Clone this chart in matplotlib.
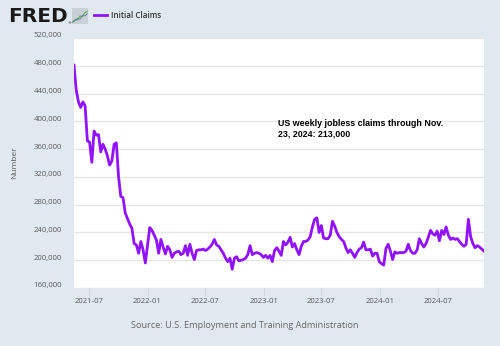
import matplotlib
matplotlib.use("Agg")
import matplotlib.pyplot as plt
import matplotlib.transforms as mtransforms
import pandas as pd

# Weekly initial claims, weeks ending Saturday
first_week = "2021-05-15"
claims = [
    481, 445, 428, 420, 428, 422, 372, 370, 341, 386,
    380, 381, 356, 367, 360, 350, 337, 343, 367, 369,
    320, 292, 290, 268, 260, 252, 246, 224, 222, 210,
    227, 215, 196, 222, 247, 243, 236, 229, 210, 230,
    219, 209, 220, 215, 204, 210, 212, 213, 208, 210,
    221, 207, 223, 210, 201, 214, 215, 215, 216, 214,
    216, 219, 223, 230, 222, 220, 215, 210, 203, 198,
    203, 187, 203, 205, 199, 200, 201, 203, 208, 221,
    208, 210, 211, 210, 208, 204, 207, 203, 207, 198,
    214, 218, 213, 207, 227, 222, 226, 233, 219, 224,
    215, 208, 220, 227, 227, 229, 234, 248, 259, 261,
    240, 250, 232, 231, 231, 236, 256, 249, 240, 234,
    230, 227, 218, 211, 215, 210, 204, 211, 216, 218,
    226, 215, 215, 216, 206, 210, 210, 198, 195, 193,
    217, 223, 213, 201, 212, 210, 211, 211, 211, 213,
    223, 214, 210, 210, 215, 231, 224, 219, 224, 233,
    243, 238, 236, 242, 228, 243, 237, 248, 236, 230,
    232, 230, 231, 227, 223, 220, 223, 259, 234, 224,
    218, 221, 219, 216, 213,
]
claims = [c * 1000 for c in claims]
weeks = pd.date_range(first_week, periods=len(claims), freq="7D")

y_ticks = list(range(160000, 520001, 40000))
x_ticks = ["2021-07", "2022-01", "2022-07", "2023-01", "2023-07", "2024-01", "2024-07"]

series_name = "Initial Claims"
note = "US weekly jobless claims through Nov.\n23, 2024: 213,000"
source = "Source: U.S. Employment and Training Administration"

# little chart icon next to the logo
icon_a = [0.1, 0.3, 0.25, 0.5, 0.45, 0.7, 0.8]
icon_b = [0.15, 0.2, 0.35, 0.3, 0.55, 0.5, 0.65]

bg = "#e1e9f0"
purple = "#9012fe"
grey = "#595959"

fig = plt.figure(figsize=(5.0, 3.46), dpi=100, facecolor=bg)
ax = fig.add_axes([74 / 500, 1 - 288 / 346, 410 / 500, 250 / 346])
ax.set_facecolor("white")

ax.plot(weeks, claims, color=purple, lw=2.0, solid_joinstyle="round", zorder=3)

ax.set_xlim(weeks[0], weeks[-1])
ax.set_ylim(y_ticks[0], y_ticks[-1])

ax.set_yticks(y_ticks)
ax.set_yticklabels([f"{v:,}" for v in y_ticks])
ax.set_xticks([pd.Timestamp(t + "-01") for t in x_ticks])
ax.set_xticklabels(x_ticks)

ax.grid(axis="y", color="#e6e6e6", lw=1.0, zorder=0)
for s in ax.spines.values():
    s.set_visible(False)

ax.tick_params(axis="y", length=0, pad=8.5, labelsize=5.6, labelcolor=grey)
ax.tick_params(axis="x", length=6, width=0.8, color="#d0d8e0", pad=1.5,
               labelsize=5.6, labelcolor=grey)
for lbl in ax.get_yticklabels() + ax.get_xticklabels():
    lbl.set_family("Open Sans")
lift = mtransforms.ScaledTranslation(0, 3 / 100, fig.dpi_scale_trans)
for lbl in ax.get_yticklabels():
    lbl.set_transform(lbl.get_transform() + lift)

fig.text(15 / 500, 1 - 163 / 346, "Number", rotation=90, fontsize=6,
         color=grey, family="Open Sans", ha="center", va="center")

ax.text(0.498, 0.676, note, transform=ax.transAxes, fontsize=6.4,
        family="Liberation Sans", fontweight="bold", color="black",
        va="top", ha="left", linespacing=1.25)

# header: logo, icon and series key
fig.text(8 / 500, 1 - 16 / 346, "FRED", fontsize=14.5, fontweight="bold",
         family="DejaVu Sans", color="#1a1a1a", va="center", ha="left")
fig.text(67.5 / 500, 1 - 23 / 346, "®", fontsize=3, color="#1a1a1a", va="center")
icon = fig.add_axes([72 / 500, 1 - 24 / 346, 16 / 500, 16 / 346])
icon.set_facecolor("#c9d1d8")
icon.plot(range(len(icon_a)), icon_a, color="#6aa84f", lw=0.8)
icon.plot(range(len(icon_b)), icon_b, color="#5b7fa6", lw=0.6)
icon.set_xlim(-0.3, len(icon_a) - 0.7)
icon.set_ylim(0, 1)
icon.set_xticks([])
icon.set_yticks([])
for s in icon.spines.values():
    s.set_visible(False)

fig.add_artist(plt.Line2D([94 / 500, 107 / 500], [1 - 15 / 346] * 2,
                          color=purple, lw=2.0))
fig.text(111 / 500, 1 - 15 / 346, series_name, fontsize=5.8, fontweight="semibold",
         family="Open Sans", color="#333333", va="center", ha="left")

fig.text(245 / 500, 1 - 326 / 346, source, fontsize=6.6, family="Open Sans",
         color="#666666", va="center", ha="center")

fig.savefig("out.png", dpi=100, facecolor=bg)
